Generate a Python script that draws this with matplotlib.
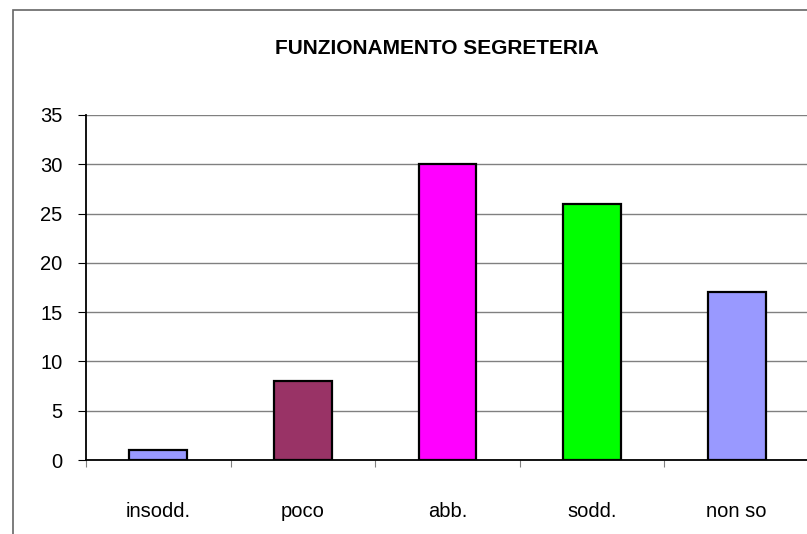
import matplotlib.pyplot as plt
import matplotlib.patches as mpatches
from matplotlib.ticker import FixedLocator

categories = ["insodd.", "poco", "abb.", "sodd.", "non so"]
values = [1, 8, 30, 26, 17]
bar_colors = ["#9999FF", "#993366", "#FF00FF", "#00FF00", "#9999FF"]
y_ticks = [0, 5, 10, 15, 20, 25, 30, 35]

plt.rcParams['font.family'] = ['Liberation Sans', 'DejaVu Sans']

fig = plt.figure(figsize=(8.07, 5.34), dpi=100)
ax = fig.add_axes([86 / 807, 1 - 460 / 534, 723 / 807, 345 / 534])

x = range(len(categories))
ax.bar(x, values, width=0.4, color=bar_colors, edgecolor="black", linewidth=1.6, zorder=3)

ax.set_xlim(-0.5, len(categories) - 0.5)
ax.set_ylim(0, 35)
ax.set_yticks(y_ticks)
ax.yaxis.grid(True, color="#808080", linewidth=1.0, zorder=0)
ax.tick_params(axis="y", labelsize=14.5, length=6, width=0.8, pad=11, direction="out")

ax.set_xticks(list(x))
ax.set_xticklabels(categories)
ax.tick_params(axis="x", which="major", labelsize=14.5, length=0, pad=30)
ax.xaxis.set_minor_locator(FixedLocator([i + 0.5 for i in range(-1, len(categories))]))
ax.tick_params(axis="x", which="minor", length=5, width=0.8, color="#808080")

for side in ["top", "right"]:
    ax.spines[side].set_visible(False)
ax.spines["left"].set_linewidth(1.3)
ax.spines["bottom"].set_linewidth(1.3)

fig.text(437 / 807, 1 - 48 / 534, "FUNZIONAMENTO SEGRETERIA", ha="center", va="center",
         fontsize=15, fontweight="bold")

frame = mpatches.Rectangle((13.5 / 807, -0.1), 1.0, (534 - 10) / 534 + 0.1,
                           transform=fig.transFigure, fill=False, edgecolor="#666666",
                           linewidth=1.2, clip_on=False)
fig.patches.append(frame)

fig.savefig("out.png", dpi=100)
